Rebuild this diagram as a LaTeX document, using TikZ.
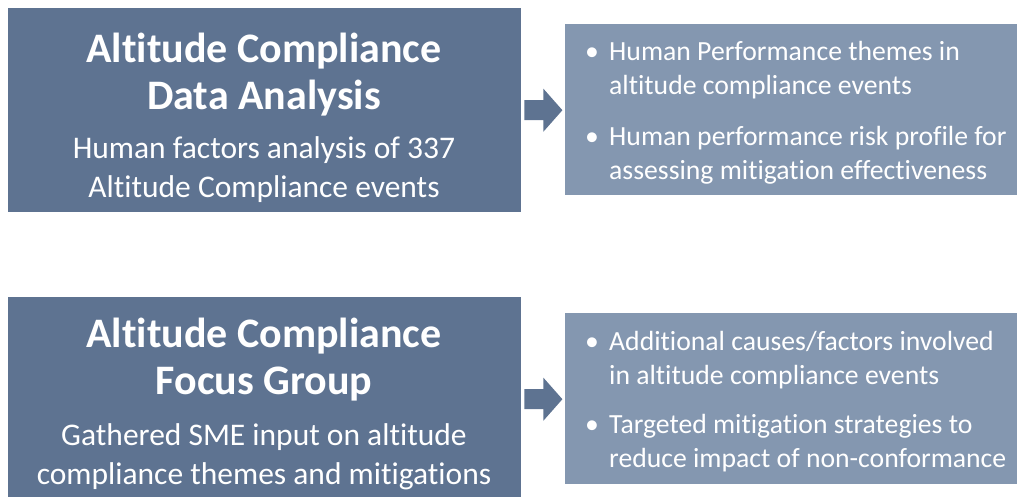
\documentclass[tikz,border=0pt]{standalone}
\usepackage{fontspec}
\setmainfont{Carlito}[Ligatures=NoCommon]
\usetikzlibrary{calc,positioning}

\definecolor{slateDark}{HTML}{5E7391}
\definecolor{slateLight}{HTML}{8497B0}

\tikzset{
  srcbox/.style={fill=slateDark, draw=none, inner sep=0, anchor=north west,
    minimum width=513pt, minimum height=204pt},
  outbox/.style={fill=slateLight, draw=none, inner sep=0, anchor=north west,
    minimum width=452pt, minimum height=171pt},
  % base anchor of a multi-line node sits on its last line
  boxtitle/.style={text=white, inner sep=0, align=center, anchor=base,
    font=\fontsize{42}{47}\selectfont\bfseries},
  boxbody/.style={text=white, inner sep=0, align=center, anchor=base,
    font=\fontsize{31.5}{39}\selectfont},
  bulletline/.style={text=white, inner sep=0, align=left, anchor=base west,
    font=\fontsize{27.7}{34}\selectfont},
  bulletdot/.style={text=white, inner sep=0, anchor=base,
    font=\fontsize{27.7}{34}\selectfont},
  blockarrow/.style={fill=slateDark, draw=none}
}

\begin{document}
\begin{tikzpicture}[x=1pt,y=-1pt]
  \useasboundingbox (0,0) rectangle (1031,496);
  \clip (0,0) rectangle (1031,496);

  % upper row: data analysis
  \node[srcbox] (dataBox) at (8,8) {};
  \node[outbox] (dataOut) at (565,24) {};
  \node[boxtitle] (dataTitle) at (264,109) {Altitude Compliance\\Data Analysis};
  \node[boxbody] (dataBody) at (264,197) {Human factors analysis of 337\\Altitude Compliance events};
  \node[bulletdot] (dataDotA) at (592,60) {\textbullet};
  \node[bulletline] (dataItemA) at (609,94) {Human Performance themes in\\altitude compliance events};
  \node[bulletdot] (dataDotB) at (592,145) {\textbullet};
  \node[bulletline] (dataItemB) at (609,179) {Human performance risk profile for\\assessing mitigation effectiveness};

  % lower row: focus group
  \node[srcbox] (focusBox) at (8,297) {};
  \node[outbox] (focusOut) at (565,313) {};
  \node[boxtitle] (focusTitle) at (264,394) {Altitude Compliance\\Focus Group};
  \node[boxbody] (focusBody) at (264,484) {Gathered SME input on altitude\\compliance themes and mitigations};
  \node[bulletdot] (focusDotA) at (592,350) {\textbullet};
  \node[bulletline] (focusItemA) at (609,384) {Additional causes/factors involved\\in altitude compliance events};
  \node[bulletdot] (focusDotB) at (592,433) {\textbullet};
  \node[bulletline] (focusItemB) at (609,467) {Targeted mitigation strategies to\\reduce impact of non-conformance};

  % block arrows between the boxes
  \foreach \src in {dataBox,focusBox}{
    \fill[blockarrow] ($(\src.east)+(3,-10)$) -- ++(19,0) -- ++(0,-11.5)
      -- ++(19,21.5) -- ++(-19,21.5) -- ++(0,-11.5) -- ++(-19,0) -- cycle;
  }
\end{tikzpicture}
\end{document}
